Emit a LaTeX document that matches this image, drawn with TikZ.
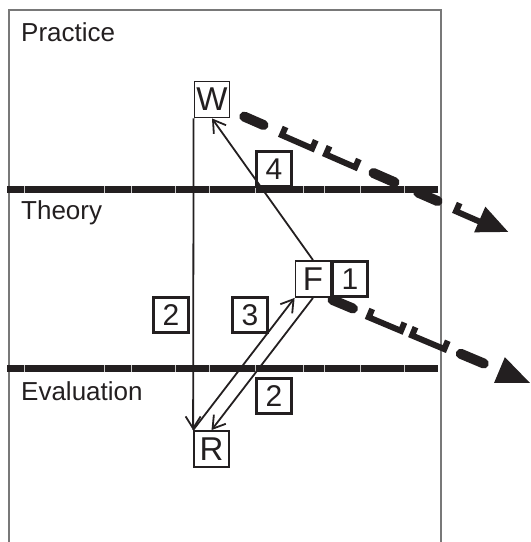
\documentclass[tikz,border=0pt]{standalone}
\usepackage{fontspec}
\setmainfont{Liberation Sans}
\usetikzlibrary{arrows.meta}
\definecolor{ink}{RGB}{35,31,32}
\definecolor{frame}{RGB}{120,120,120}
\begin{document}
\begin{tikzpicture}[x=1pt,y=1pt,
  lbl/.style={font=\fontsize{26}{30}\selectfont, text=ink, anchor=base west, inner sep=0},
  letterbox/.style={draw=ink, line width=1.8, minimum width=35, minimum height=36, inner sep=0, font=\fontsize{33}{36}\selectfont, text=ink},
  numbox/.style={draw=ink, line width=3.4, minimum size=35, inner sep=0, font=\fontsize{30}{34}\selectfont, text=ink},
  band/.style={ink, line width=7},
  gapline/.style={white!75!ink, line width=0.6},
  arr/.style={ink, line width=1.8, -{Straight Barb[length=12pt,width=15pt,line width=1.8]}},
  blob/.style={ink, line width=10, line cap=round},
  hook/.style={ink, line width=6, line join=miter},
]
\useasboundingbox (0,0) rectangle (531,-542);
% frame
\draw[frame, line width=1.2] (9,-545) -- (9,-10) -- (441,-10) -- (441,-545);
% bands
\draw[band] (7,-189.5) -- (438,-189.5);
\draw[band] (7,-368.5) -- (438,-368.5);
\foreach \x in {24,104,131,175,209,255,303,324,360,404}{
  \draw[gapline] (\x,-186) -- (\x,-193);
  \draw[gapline] (\x,-365) -- (\x,-372);
}
% region labels
\node[lbl] (practice) at (21,-41.5) {Practice};
\node[lbl] (theory) at (21,-219.5) {Theory};
\node[lbl] (evaluation) at (21,-400) {Evaluation};
% boxes
\node[letterbox] (W) at (212,-99.5) {W};
\node[letterbox] (F) at (313,-279) {F};
\node[letterbox] (R) at (211.5,-449) {R};
\node[numbox] (n1) at (350,-279) {1};
\node[numbox] (n4) at (274,-169) {4};
\node[numbox] (n2a) at (171,-315) {2};
\node[numbox] (n3) at (250,-315) {3};
\node[numbox] (n2b) at (274,-396) {2};
% connectors
\draw[arr] (W.south west) -- (R.north west);
\draw[arr] (F.north) -- (W.south);
\draw[arr] (R.north west) -- (F.south west);
\draw[arr] (F.south) -- (R.north);
% dashed outward arrows
\coordinate (d1) at (236,-113);
\coordinate (d2) at (328,-298);
\begin{scope}[shift={(d1)}, rotate=-23.6]
  \draw[blob] (9,0) -- (30,0);
  \draw[hook] (51,7) -- (51,-2) -- (84,-2) -- (84,7);
  \draw[hook] (99,7) -- (99,-2) -- (131,-2) -- (131,7);
  \draw[blob] (150,0) -- (173,0);
  \draw[blob] (199,0) -- (220,0);
  \draw[hook] (241,7) -- (241,-2) -- (268,-2);
  \fill[ink] (266,-14) -- (297,0) -- (266,14) -- cycle;
\end{scope}
\begin{scope}[shift={(d2)}, rotate=-22.8]
  \draw[blob] (5,0) -- (27,0);
  \draw[hook] (45,7) -- (45,-2) -- (80,-2) -- (80,7);
  \draw[hook] (92,7) -- (92,-2) -- (127,-2) -- (127,7);
  \draw[blob] (144,0) -- (169,0);
  \fill[ink] (186,-14) -- (219,0) -- (186,14) -- cycle;
\end{scope}
\end{tikzpicture}
\end{document}
